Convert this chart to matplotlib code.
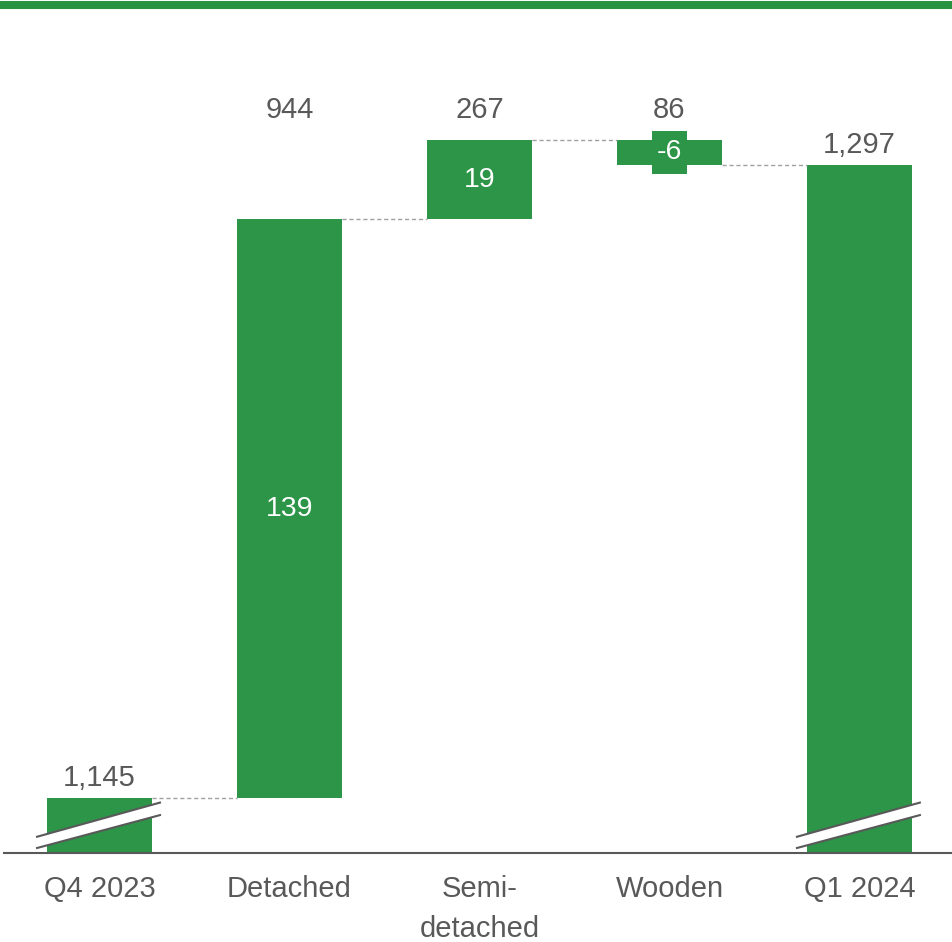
import numpy as np
import matplotlib.pyplot as plt
from matplotlib.patches import Polygon, Rectangle
from matplotlib.lines import Line2D

plt.rcParams['font.family'] = ['Liberation Sans', 'DejaVu Sans']

categories = ['Q4 2023', 'Detached', 'Semi-\ndetached', 'Wooden', 'Q1 2024']
start_value = 1145
changes = [139, 19, -6]
end_value = 1297
counts = [944, 267, 86]

green = '#2c9547'
grey_text = '#595959'

fig = plt.figure(figsize=(9.52, 9.42), dpi=100)
ax = fig.add_axes([4 / 952, 89 / 942, 948 / 952, 823 / 942])

y_min, y_max = 1131.8, 1329.4
ax.set_xlim(-0.503, 4.487)
ax.set_ylim(y_min, y_max)

width = 0.553
x = np.arange(len(categories))

# running levels for the waterfall
levels = [start_value]
for c in changes:
    levels.append(levels[-1] + c)

# totals, drawn from the (broken) axis floor
ax.bar(x[0], start_value - y_min, bottom=y_min, width=width, color=green)
ax.bar(x[-1], end_value - y_min, bottom=y_min, width=width, color=green)

# floating steps, each with a green patch behind its label
for i, c in enumerate(changes):
    lo = min(levels[i], levels[i + 1])
    mid = lo + abs(c) / 2
    ax.bar(x[i + 1], abs(c), bottom=lo, width=width, color=green)
    ax.add_patch(Rectangle((x[i + 1] - 0.092, mid - 5.15), 0.184, 10.3,
                           fc=green, ec='none', zorder=2))
    ax.text(x[i + 1], mid, f'{c:,}', ha='center', va='center',
            color='white', fontsize=20.5, zorder=3)

# dashed connectors between neighbouring bars
tops = levels + [end_value]
for i in range(len(categories) - 1):
    ax.plot([x[i] + width / 2, x[i + 1] - width / 2], [tops[i], tops[i]],
            ls=(0, (3, 2)), lw=1, color='#a0a0a0', zorder=1)

# totals labels
for xi, v in [(x[0], start_value), (x[-1], end_value)]:
    ax.annotate(f'{v:,}', (xi, v), xytext=(0, 8.6), textcoords='offset points',
                ha='center', va='baseline', fontsize=21, color=grey_text)

# counts row above the steps
for i, n in enumerate(counts):
    ax.text(x[i + 1], 1308.3, f'{n:,}', ha='center', va='baseline',
            fontsize=21, color=grey_text)

# axis break marks on the total bars
for xi in [x[0], x[-1]]:
    xl, xr = xi - 0.329, xi + 0.318
    upper = [(xl, 1135.7), (xr, 1143.9)]
    lower = [(xl, 1133.0), (xr, 1140.9)]
    ax.add_patch(Polygon(upper + lower[::-1], closed=True, fc='white',
                         ec='none', zorder=3))
    for seg in (upper, lower):
        ax.add_line(Line2D(*zip(*seg), color=grey_text, lw=1.5, zorder=4))

ax.set_xticks(x)
ax.set_xticklabels(categories, fontsize=21, color=grey_text, linespacing=1.58)
ax.tick_params(axis='x', length=0, pad=15.5)
ax.set_yticks([])
for s in ['top', 'right', 'left']:
    ax.spines[s].set_visible(False)
ax.spines['bottom'].set_color(grey_text)
ax.spines['bottom'].set_linewidth(1.5)

# green rule along the top edge
fig.add_artist(Line2D([2 / 952, 1], [1 - 5 / 942, 1 - 5 / 942],
                      color='#27923f', lw=5.8, transform=fig.transFigure))

fig.savefig('out.png', dpi=100)
